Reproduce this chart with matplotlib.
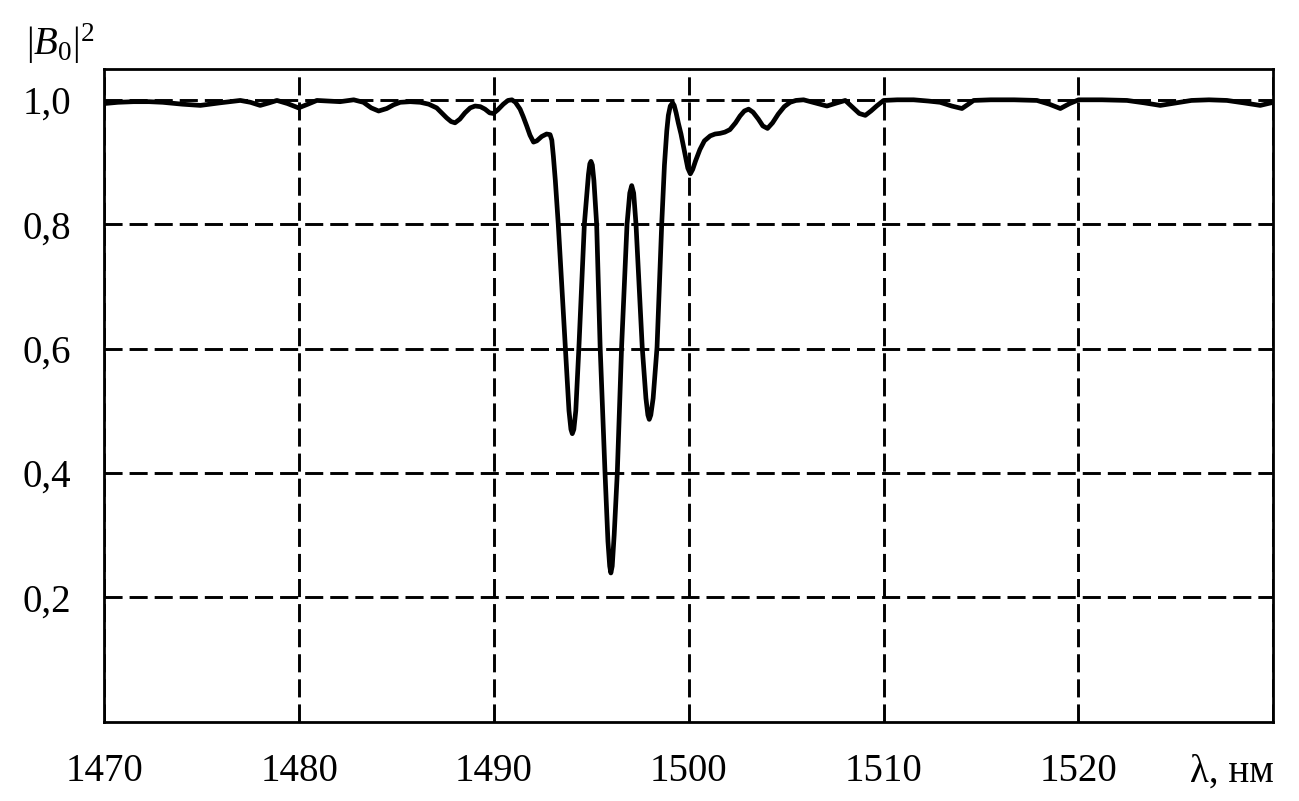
import matplotlib
matplotlib.use("Agg")
import matplotlib.pyplot as plt

plt.rcParams['font.family'] = ['Liberation Serif', 'DejaVu Serif']
plt.rcParams['mathtext.fontset'] = 'custom'
plt.rcParams['mathtext.rm'] = 'Liberation Serif'
plt.rcParams['mathtext.it'] = 'Liberation Serif:italic'

# Spectrum |B0|^2 vs wavelength (nm)
wl = [1470.0, 1470.7, 1471.5, 1472.3, 1473.0, 1474.0, 1474.93, 1475.9,
      1476.98, 1477.5, 1478.0, 1478.45, 1478.86, 1479.4, 1479.97, 1480.45,
      1480.91, 1481.5, 1482.1, 1482.8, 1483.3, 1483.7, 1484.08, 1484.5,
      1484.85, 1485.19, 1485.7, 1486.22, 1486.65, 1487.06, 1487.57, 1487.8,
      1488.0, 1488.25, 1488.51, 1488.78, 1489.03, 1489.3, 1489.54, 1489.78,
      1489.97, 1490.2, 1490.48, 1490.72, 1490.92, 1491.1, 1491.34, 1491.5,
      1491.68, 1491.85, 1492.03, 1492.2, 1492.45, 1492.7, 1492.88, 1492.97,
      1493.05, 1493.15, 1493.3, 1493.66, 1493.85, 1493.95, 1494.02, 1494.1,
      1494.2, 1494.36, 1494.64, 1494.85, 1494.92, 1494.98, 1495.05, 1495.13,
      1495.27, 1495.45, 1495.7, 1495.85, 1495.94, 1496.0, 1496.07, 1496.17,
      1496.33, 1496.55, 1496.83, 1496.97, 1497.07, 1497.17, 1497.29, 1497.61,
      1497.8, 1497.9, 1497.97, 1498.05, 1498.17, 1498.37, 1498.61, 1498.75,
      1498.87, 1498.95, 1499.05, 1499.17, 1499.25, 1499.35, 1499.46, 1499.6,
      1499.72, 1499.85, 1499.95, 1500.08, 1500.2, 1500.35, 1500.57, 1500.8,
      1501.1, 1501.35, 1501.6, 1501.85, 1502.11, 1502.4, 1502.63, 1502.85,
      1503.07, 1503.3, 1503.57, 1503.8, 1504.04, 1504.3, 1504.59, 1504.9,
      1505.2, 1505.5, 1505.89, 1506.5, 1507.09, 1507.6, 1508.03, 1508.44,
      1508.75, 1509.06, 1509.35, 1509.64, 1510.0, 1510.7, 1511.54, 1512.3,
      1512.9, 1513.5, 1514.02, 1514.35, 1514.62, 1515.5, 1516.7, 1517.87,
      1518.5, 1519.07, 1519.55, 1520.01, 1521.2, 1522.49, 1523.4, 1524.2,
      1525.0, 1525.8, 1526.7, 1527.62, 1528.5, 1529.33, 1530.0]
b0 = [0.994, 0.996, 0.997, 0.997, 0.996, 0.993, 0.991, 0.995,
      0.999, 0.996, 0.991, 0.995, 0.999, 0.994, 0.987, 0.993,
      0.999, 0.998, 0.997, 1.0, 0.996, 0.987, 0.982, 0.986,
      0.992, 0.996, 0.997, 0.996, 0.993, 0.987, 0.971, 0.965,
      0.963, 0.969, 0.979, 0.987, 0.990, 0.989, 0.985, 0.979,
      0.978, 0.984, 0.993, 0.999, 1.0, 0.996, 0.985, 0.973,
      0.958, 0.943, 0.932, 0.934, 0.941, 0.945, 0.944, 0.935,
      0.909, 0.870, 0.800, 0.602, 0.50, 0.47, 0.463, 0.47,
      0.50, 0.602, 0.800, 0.88, 0.897, 0.901, 0.895, 0.87,
      0.800, 0.602, 0.400, 0.29, 0.25, 0.239, 0.25, 0.30,
      0.400, 0.602, 0.800, 0.85, 0.862, 0.85, 0.800, 0.602,
      0.52, 0.493, 0.486, 0.493, 0.52, 0.602, 0.800, 0.895,
      0.950, 0.975, 0.990, 0.995, 0.991, 0.979, 0.963, 0.945,
      0.926, 0.905, 0.890, 0.881, 0.888, 0.902, 0.920, 0.934,
      0.942, 0.945, 0.946, 0.948, 0.952, 0.963, 0.974, 0.982,
      0.985, 0.980, 0.969, 0.958, 0.954, 0.963, 0.977, 0.989,
      0.996, 0.999, 1.0, 0.995, 0.990, 0.995, 0.999, 0.987,
      0.978, 0.975, 0.982, 0.990, 0.999, 1.0, 1.0, 0.998,
      0.996, 0.990, 0.986, 0.993, 0.999, 1.0, 1.0, 0.999,
      0.993, 0.986, 0.994, 1.0, 1.0, 0.999, 0.995, 0.991,
      0.995, 0.999, 1.0, 0.999, 0.995, 0.991, 0.996]

x_ticks = [1470, 1480, 1490, 1500, 1510, 1520, 1530]
x_labels = ['1470', '1480', '1490', '1500', '1510', '1520', '']
y_ticks = [0.2, 0.4, 0.6, 0.8, 1.0]
y_labels = ['0,2', '0,4', '0,6', '0,8', '1,0']

fig = plt.figure(figsize=(12.99, 8.01), dpi=100)
ax = fig.add_axes([0.0803, 0.0992, 0.8999, 0.8150])

ax.plot(wl, b0, color='black', lw=3.4, zorder=3,
        solid_joinstyle='round', solid_capstyle='round')

ax.set_xlim(1470, 1530)
ax.set_ylim(0, 1.05)
ax.set_xticks(x_ticks)
ax.set_xticklabels(x_labels)
ax.set_yticks(y_ticks)
ax.set_yticklabels(y_labels)
ax.tick_params(axis='both', length=0, labelsize=28)
ax.tick_params(axis='x', pad=23)
ax.tick_params(axis='y', pad=24)

ax.grid(True, color='black', lw=2.1, linestyle=(0, (6.2, 2.4)), zorder=1)
for s in ax.spines.values():
    s.set_linewidth(2.0)
    s.set_color('black')

fig.text(26 / 1299, (801 - 55) / 801, r'$|B_0|^2$', fontsize=28,
         ha='left', va='baseline')
fig.text(1274 / 1299, (801 - 782) / 801, 'λ, нм', fontsize=28,
         ha='right', va='baseline')

fig.savefig('out.png', dpi=100)
